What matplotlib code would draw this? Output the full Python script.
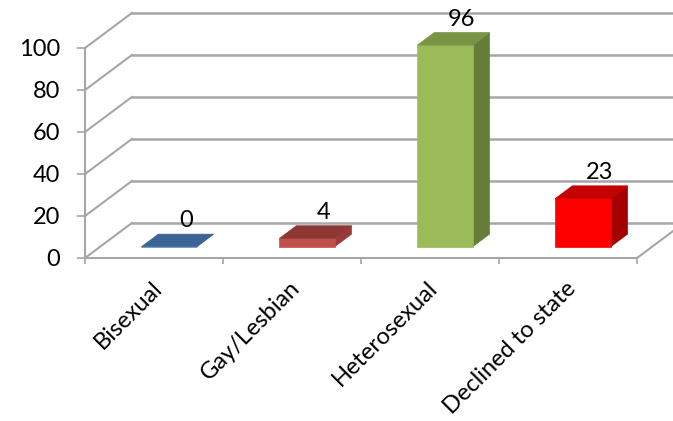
import numpy as np
import matplotlib.pyplot as plt
from matplotlib.patches import Polygon
from matplotlib.transforms import ScaledTranslation

categories = ['Bisexual', 'Gay/Lesbian', 'Heterosexual', 'Declined to state']
counts = [0, 4, 96, 23]
front_colors = ['#4F81BD', '#C0504D', '#9BBB59', '#FF0000']
side_colors = ['#2F4F78', '#9A3B39', '#667D3A', '#A50000']
top_colors = ['#3B6394', '#8E3835', '#7A9445', '#C40000']
yticks = [0, 20, 40, 60, 80, 100]

plt.rcParams['font.family'] = ['Lato', 'DejaVu Sans']
grid_color = '#A6A6A6'
fs = 17

# oblique depth offset (category units, value units) for depth 0 -> 1
DX, DY = 0.34, 16.7
bar_w = 0.40
d0, d1 = 0.32, 0.68


def proj(x, y, d):
    return (x + d * DX, y + d * DY)


fig = plt.figure(figsize=(6.73, 4.21), dpi=100)
ax = fig.add_axes([85 / 673, (421 - 258) / 421, 552 / 673, 210 / 421])
ax.set_xlim(-0.5, 3.5)
ax.set_ylim(0, 100)
ax.patch.set_visible(False)

# walls: back wall gridlines and side wall diagonals
for v in yticks:
    x0, y0 = proj(-0.5, v, 0)
    x1, y1 = proj(-0.5, v, 1)
    ax.plot([x0, x1], [y0, y1], color=grid_color, lw=1.5, clip_on=False, zorder=1)
    ax.plot([x1, 4.5], [y1, y1], color=grid_color, lw=1.8, clip_on=False, zorder=1)
xr0, yr0 = proj(3.5, 0, 0)
xr1, yr1 = proj(3.5, 0, 1)
ax.plot([xr0, xr1], [yr0, yr1], color=grid_color, lw=1.5, clip_on=False, zorder=1)

# 3d columns
for i, v in enumerate(counts):
    l, r = i - bar_w / 2, i + bar_w / 2
    front = [proj(l, 0, d0), proj(r, 0, d0), proj(r, v, d0), proj(l, v, d0)]
    side = [proj(r, 0, d0), proj(r, 0, d1), proj(r, v, d1), proj(r, v, d0)]
    top = [proj(l, v, d0), proj(r, v, d0), proj(r, v, d1), proj(l, v, d1)]
    for pts, c in ((side, side_colors[i]), (front, front_colors[i]), (top, top_colors[i])):
        ax.add_patch(Polygon(pts, closed=True, facecolor=c, edgecolor=c,
                             lw=0.5, clip_on=False, zorder=3))
    lx, ly = proj(i, v, d1)
    ax.annotate(str(v), (lx, ly), xytext=(0, 2), textcoords='offset points',
                ha='center', va='bottom', fontsize=fs, zorder=4,
                annotation_clip=False)

for s in ('top', 'right'):
    ax.spines[s].set_visible(False)
for s in ('left', 'bottom'):
    ax.spines[s].set_color(grid_color)
    ax.spines[s].set_linewidth(1.5)

ax.set_yticks(yticks)
ax.tick_params(axis='y', direction='out', length=6, width=1.2, color=grid_color,
               pad=12, labelsize=fs)

ax.set_xticks(np.arange(-0.5, 4, 1), minor=True)
ax.set_xticks(range(len(categories)))
ax.set_xticklabels(categories, rotation=45, ha='right', va='top',
                   rotation_mode='anchor', fontsize=fs)
ax.tick_params(axis='x', which='major', length=0, pad=14)
ax.tick_params(axis='x', which='minor', direction='out', length=4.5, width=1.2,
               color=grid_color)
shift = ScaledTranslation(-3 / 100, 0, fig.dpi_scale_trans)
for lab in ax.get_xticklabels():
    lab.set_transform(lab.get_transform() + shift)

fig.savefig('out.png', dpi=100)
